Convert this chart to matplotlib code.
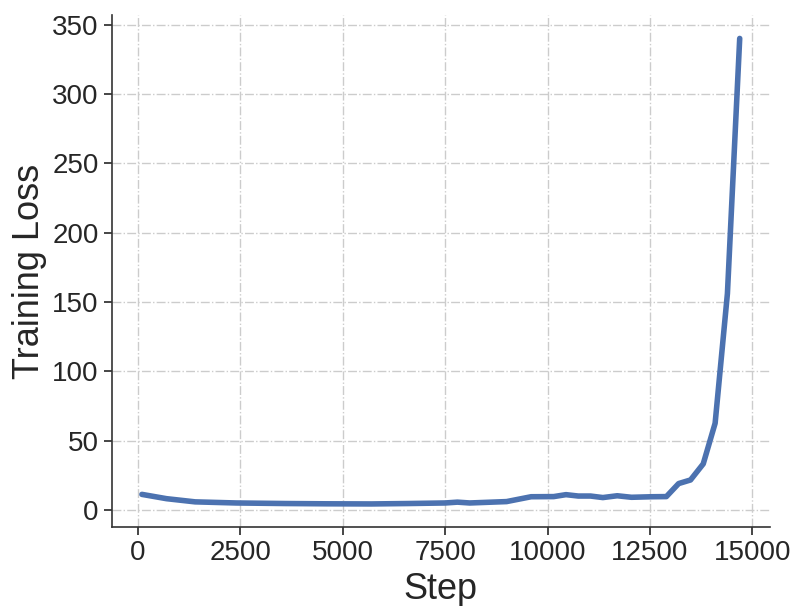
import numpy as np
import matplotlib
matplotlib.use("Agg")
import matplotlib.pyplot as plt
import seaborn as sns

# values
steps = [100, 700, 1400, 2400, 3600, 4600, 5700, 6600, 7500, 7800, 8100,
         9000, 9600, 10150, 10450, 10750, 11050, 11350, 11700, 12050,
         12550, 12900, 13200, 13490, 13800, 14090, 14390, 14690]
loss = [11.2, 8.1, 5.8, 5.0, 4.6, 4.4, 4.3, 4.6, 5.0, 5.6, 5.0,
        6.0, 9.5, 9.6, 11.0, 10.0, 10.0, 8.9, 10.2, 9.1,
        9.5, 9.6, 19.0, 21.6, 33.2, 62.5, 156.0, 340.0]

sns.set_theme(style="ticks")
plt.rcParams["font.family"] = ["Liberation Sans", "DejaVu Sans"]

fig, ax = plt.subplots(figsize=(8, 6.06), dpi=100)

ax.plot(steps, loss, color="#4C72B0", linewidth=4)

ax.grid(True, linestyle="-.", color="#cccccc", linewidth=1)
ax.set_xlabel("Step", fontsize=26, color="#262626")
ax.set_ylabel("Training Loss", fontsize=26, color="#262626")
ax.tick_params(labelsize=20, colors="#262626", length=6, width=1.2)
ax.set_yticks(np.arange(0, 351, 50))
ax.set_xticks(np.arange(0, 15001, 2500))
for s in ["left", "bottom"]:
    ax.spines[s].set_color("#333333")
    ax.spines[s].set_linewidth(1.2)
sns.despine(ax=ax)

fig.subplots_adjust(left=0.14, right=0.962, top=0.975, bottom=0.13)
fig.savefig("out.png", dpi=100)
